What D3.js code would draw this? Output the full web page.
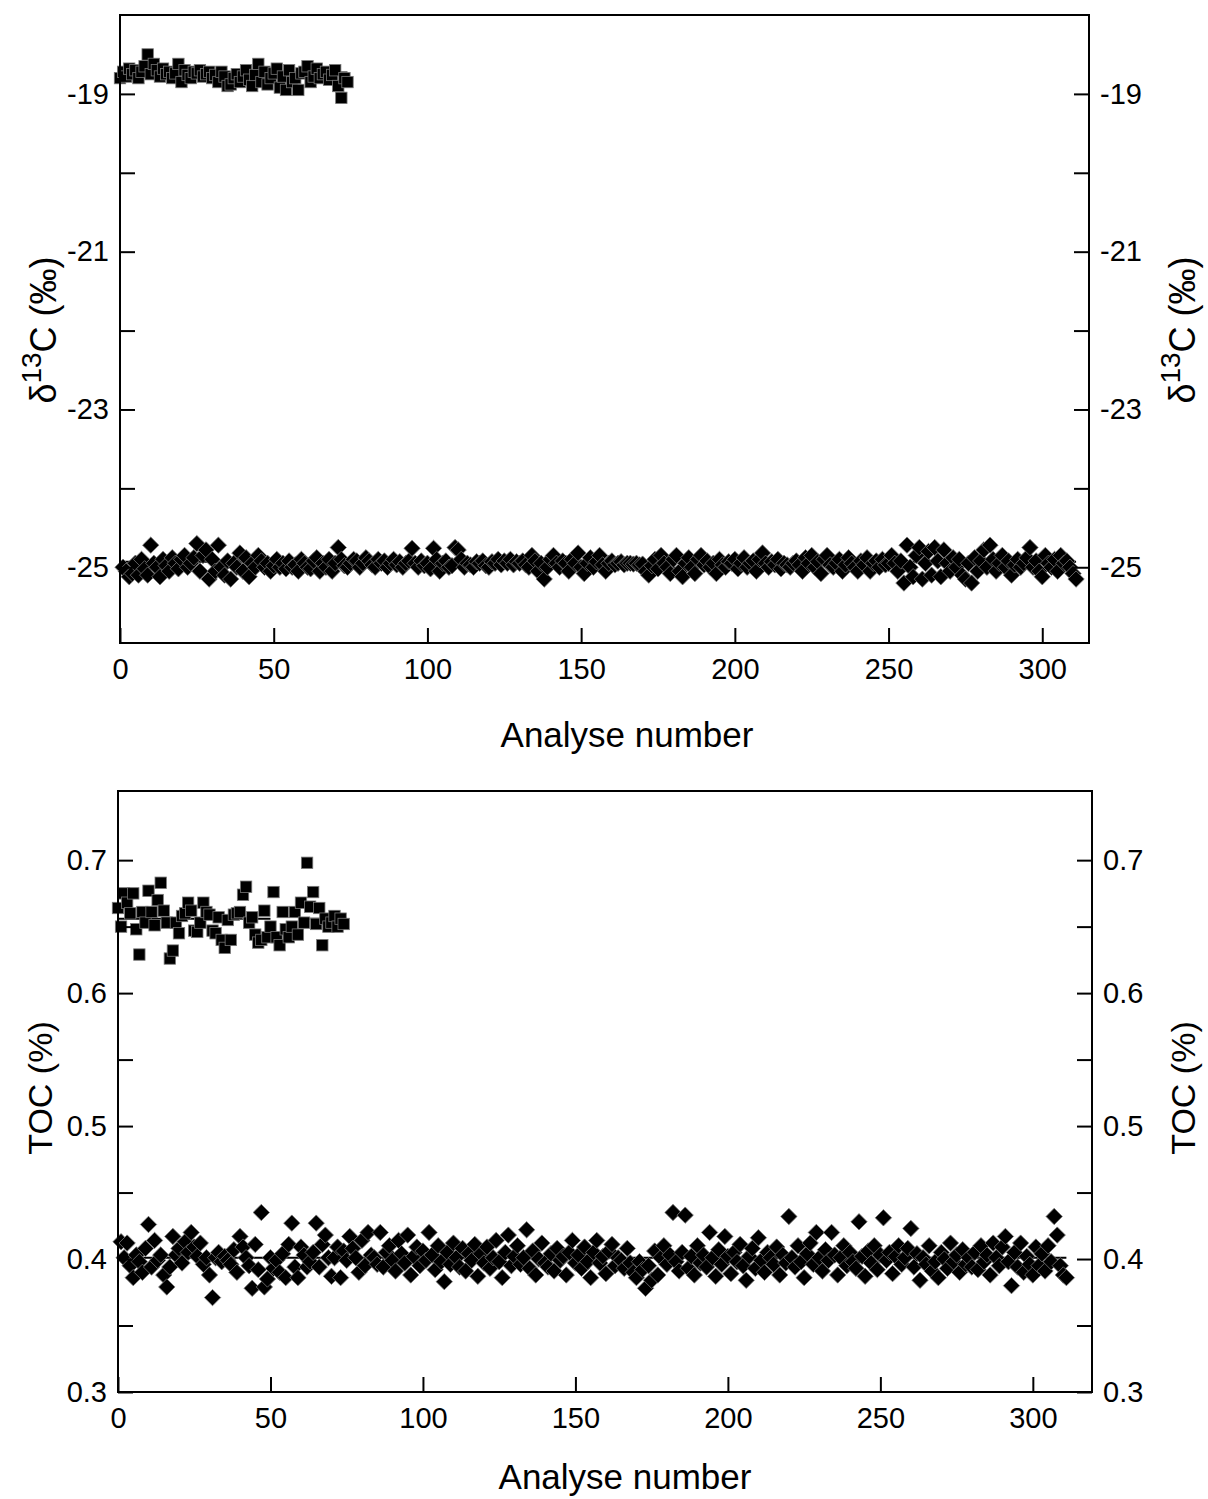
<!DOCTYPE html>
<html><head><meta charset="utf-8">
<script src="https://cdn.jsdelivr.net/npm/d3@7"></script>
<style>
html,body{margin:0;padding:0;background:#fff;}
text{font-family:"Liberation Sans",Arial,sans-serif;fill:#000;}
</style></head>
<body>
<svg id="chart" width="1208" height="1499"></svg>
<script>
// ---------- DATA ----------
// δ13C reference material A (squares), analyses 0..74
const d13cSquares = [-18.80,-18.72,-18.78,-18.68,-18.75,-18.70,-18.80,-18.72,-18.65,-18.50,-18.75,-18.62,-18.70,-18.78,-18.68,-18.75,-18.72,-18.80,-18.74,-18.62,-18.85,-18.70,-18.76,-18.80,-18.72,-18.74,-18.70,-18.78,-18.75,-18.72,-18.80,-18.76,-18.85,-18.72,-18.78,-18.90,-18.88,-18.80,-18.75,-18.85,-18.78,-18.70,-18.82,-18.90,-18.76,-18.62,-18.85,-18.72,-18.88,-18.80,-18.74,-18.68,-18.92,-18.78,-18.95,-18.70,-18.85,-18.80,-18.95,-18.74,-18.72,-18.65,-18.85,-18.78,-18.68,-18.80,-18.75,-18.72,-18.82,-18.76,-18.70,-18.90,-19.05,-18.80,-18.85];
// δ13C reference material B (diamonds), analyses 1..311
const d13cDiamonds = [-25.00,-25.05,-25.12,-25.08,-24.95,-25.10,-24.90,-25.02,-25.10,-24.72,-24.95,-25.00,-25.12,-24.90,-24.98,-25.05,-24.88,-24.95,-25.02,-24.90,-24.85,-25.00,-24.95,-24.88,-24.70,-25.05,-24.85,-24.78,-25.15,-24.90,-25.05,-24.72,-25.00,-25.10,-24.92,-25.15,
-24.95,-25.00,-24.82,-25.05,-24.88,-25.12,-24.95,-25.00,-24.85,-24.92,-25.00,-24.95,-25.05,-24.98,-24.90,-25.00,-24.95,-25.02,-24.92,-25.00,-24.97,-25.05,-24.90,-24.95,-25.00,-25.02,-24.92,-24.88,-25.05,-24.95,-25.00,-24.90,-25.05,-24.95,-24.75,-24.90,-24.98,-25.00,-24.95,-24.90,-24.92,-25.00,-24.95,-24.88,
-24.92,-24.97,-25.00,-24.90,-24.95,-24.92,-25.00,-24.95,-24.90,-24.97,-24.93,-25.00,-24.95,-24.92,-24.76,-24.95,-25.00,-24.92,-24.98,-24.95,-25.02,-24.76,-24.90,-25.05,-24.95,-24.92,-25.00,-24.98,-24.75,-24.78,-24.90,-25.00,-24.95,-24.97,-25.00,-24.93,-24.95,-24.92,-24.98,-25.00,-24.93,-24.95,-24.90,-24.97,-24.92,-24.95,-24.90,-24.97,-24.93,-24.95,-24.92,-24.97,-25.00,-24.85,-24.92,-25.05,-24.95,-25.15,-25.00,-24.90,
-24.85,-24.95,-25.00,-24.92,-24.95,-25.05,-24.90,-24.95,-24.82,-25.00,-25.08,-24.95,-24.88,-25.00,-24.93,-24.85,-24.97,-25.05,-24.95,-24.92,-24.97,-24.95,-24.93,-24.97,-24.95,-24.95,-24.96,-24.95,-24.97,-24.96,-25.05,-25.10,-24.98,-24.90,-25.02,-24.85,-24.95,-25.00,-25.08,-24.90,
-24.85,-25.05,-25.12,-24.95,-24.88,-25.00,-25.08,-24.90,-24.85,-24.97,-24.92,-25.00,-24.95,-25.08,-24.90,-24.97,-25.00,-24.93,-24.95,-24.90,-25.02,-24.95,-24.88,-25.00,-24.95,-24.92,-25.05,-24.90,-24.82,-24.95,-25.00,-24.93,-24.97,-24.90,-25.02,-24.95,-24.97,-25.00,-24.95,-24.92,-24.97,-25.05,-24.88,-24.95,-24.85,-25.00,-24.93,-25.08,-24.90,-24.85,-24.97,-25.00,-24.95,-24.90,-25.05,-24.97,-24.88,-24.95,-25.00,-25.05,-24.92,-24.97,-24.88,-25.05,-24.95,-24.92,-25.00,-24.90,-24.97,-24.95,
-24.85,-24.95,-25.05,-24.92,-25.20,-24.72,-25.00,-25.12,-24.85,-24.75,-25.15,-24.95,-24.80,-25.10,-24.75,-24.92,-25.12,-24.78,-24.95,-25.05,-24.88,-25.00,-24.90,-25.10,-25.15,-24.95,-25.20,-24.88,-25.05,-24.92,-24.78,-25.00,-24.72,-24.90,-25.05,-24.95,-24.85,-25.00,-24.92,-25.10,-24.97,-24.90,-25.00,-24.95,-24.88,-24.75,-25.00,-24.92,-25.05,-25.12,-24.85,-24.95,-25.00,-24.90,-25.05,-24.85,-24.95,-24.92,-25.00,-25.08,-25.15];
// TOC reference material A (squares), analyses 0..74
const tocSquares = [0.664,0.650,0.675,0.668,0.660,0.675,0.648,0.629,0.661,0.653,0.677,0.661,0.651,0.670,0.683,0.662,0.653,0.626,0.632,0.653,0.645,0.658,0.660,0.668,0.662,0.647,0.646,0.653,0.668,0.661,0.659,0.647,0.645,0.657,0.640,0.634,0.655,0.640,0.659,0.660,0.661,0.674,0.680,0.653,0.657,0.644,0.638,0.640,0.662,0.642,0.650,0.676,0.642,0.636,0.661,0.648,0.642,0.650,0.661,0.644,0.668,0.653,0.698,0.665,0.676,0.652,0.664,0.636,0.656,0.650,0.653,0.658,0.650,0.656,0.652];
// TOC reference material B (diamonds), analyses 1..311
const tocDiamonds = [0.413,0.401,0.412,0.395,0.386,0.403,0.398,0.390,0.408,0.426,
0.394,0.414,0.399,0.403,0.388,0.379,0.394,0.417,0.403,0.408,
0.397,0.413,0.405,0.420,0.409,0.402,0.412,0.396,0.401,0.388,
0.371,0.401,0.405,0.398,0.402,0.399,0.396,0.407,0.390,0.417,
0.409,0.401,0.395,0.378,0.411,0.392,0.435,0.379,0.385,0.401,
0.393,0.399,0.390,0.404,0.386,0.411,0.427,0.394,0.386,0.409,
0.403,0.394,0.398,0.405,0.427,0.394,0.411,0.418,0.401,0.387,
0.401,0.409,0.386,0.406,0.399,0.417,0.408,0.401,0.390,0.414,
0.395,0.420,0.403,0.401,0.396,0.420,0.394,0.405,0.410,0.399,
0.391,0.414,0.404,0.397,0.418,0.388,0.402,0.409,0.395,0.406,
0.399,0.420,0.403,0.392,0.410,0.398,0.383,0.405,0.396,0.412,
0.401,0.394,0.408,0.391,0.404,0.399,0.411,0.387,0.404,0.397,
0.409,0.393,0.401,0.414,0.398,0.386,0.405,0.418,0.395,0.402,
0.410,0.396,0.401,0.422,0.393,0.406,0.388,0.400,0.412,0.397,
0.394,0.404,0.391,0.408,0.399,0.402,0.388,0.405,0.414,0.397,
0.403,0.393,0.409,0.398,0.386,0.405,0.414,0.397,0.402,0.389,
0.406,0.411,0.395,0.401,0.399,0.393,0.408,0.397,0.390,0.386,
0.398,0.392,0.378,0.395,0.384,0.406,0.388,0.401,0.410,0.396,
0.403,0.435,0.398,0.391,0.405,0.433,0.393,0.402,0.388,0.410,
0.397,0.403,0.394,0.420,0.401,0.387,0.407,0.396,0.417,0.402,
0.389,0.405,0.398,0.411,0.395,0.384,0.402,0.408,0.393,0.416,
0.399,0.390,0.405,0.401,0.396,0.409,0.388,0.403,0.397,0.432,
0.401,0.394,0.410,0.398,0.386,0.404,0.412,0.396,0.420,0.401,
0.391,0.407,0.399,0.420,0.403,0.388,0.401,0.410,0.395,0.405,
0.398,0.393,0.428,0.402,0.387,0.406,0.397,0.410,0.392,0.403,
0.431,0.399,0.405,0.389,0.402,0.410,0.396,0.401,0.408,0.423,
0.394,0.404,0.384,0.401,0.396,0.410,0.391,0.398,0.386,0.405,
0.400,0.393,0.412,0.398,0.403,0.390,0.407,0.396,0.401,0.394,
0.405,0.392,0.410,0.398,0.403,0.388,0.412,0.401,0.395,0.409,
0.417,0.398,0.380,0.405,0.394,0.412,0.390,0.402,0.396,0.388,
0.409,0.395,0.404,0.391,0.410,0.398,0.432,0.418,0.395,0.388,
0.386];
// mean lines [from analyse, to analyse, value]
const d13cMeans = [[0, 74, -18.73], [0, 311, -24.93]];
const tocMeans = [[0, 50, 0.656], [60, 75, 0.656], [0, 311, 0.401]];
// ticks
const xTicks = [0, 50, 100, 150, 200, 250, 300];
const d13cTicks = [-25, -24, -23, -22, -21, -20, -19];
const d13cLabels = [-25, -23, -21, -19];
const tocTicks = [0.3, 0.35, 0.4, 0.45, 0.5, 0.55, 0.6, 0.65, 0.7];
const tocLabels = [0.3, 0.4, 0.5, 0.6, 0.7];
const xTitle = "Analyse number";

// ---------- DRAW ----------
const svg = d3.select("#chart");
const TICK = 15;

function panel(cfg) {
  const {left, right, top, bottom, xDom, yDom, yTicks, yLabels, fmt, squares, diamonds, means} = cfg;
  const x = d3.scaleLinear().domain(xDom).range([left, right]);
  const y = d3.scaleLinear().domain(yDom).range([bottom, top]);
  const g = svg.append("g");

  // mean lines (behind markers)
  g.selectAll("line.mean").data(means).join("line")
    .attr("x1", d => x(d[0])).attr("x2", d => x(d[1]))
    .attr("y1", d => y(d[2])).attr("y2", d => y(d[2]))
    .attr("stroke", "#000").attr("stroke-width", 2);

  // diamonds
  const ds = 8.2;
  g.selectAll("path.dia").data(diamonds).join("path")
    .attr("d", (d, i) => {
      const cx = x(i + 1), cy = y(d);
      return `M${cx},${cy - ds}L${cx + ds},${cy}L${cx},${cy + ds}L${cx - ds},${cy}Z`;
    })
    .attr("fill", "#000").attr("stroke", "#777").attr("stroke-width", 0.8);

  // squares
  const ss = 5.7;
  g.selectAll("rect.sq").data(squares).join("rect")
    .attr("x", (d, i) => x(i) - ss).attr("y", d => y(d) - ss)
    .attr("width", ss * 2).attr("height", ss * 2)
    .attr("fill", "#000").attr("stroke", "#777").attr("stroke-width", 0.8);

  // axes
  const ax = d3.axisBottom(x).tickValues(xTicks).tickSize(-TICK).tickPadding(15).tickFormat(d => String(d));
  const ay = d3.axisLeft(y).tickValues(yTicks).tickSize(-TICK).tickPadding(11)
    .tickFormat(d => yLabels.some(v => Math.abs(v - d) < 1e-9) ? fmt(d) : "");
  const ayr = d3.axisRight(y).tickValues(yTicks).tickSize(-TICK).tickPadding(11)
    .tickFormat(d => yLabels.some(v => Math.abs(v - d) < 1e-9) ? fmt(d) : "");

  [g.append("g").attr("transform", `translate(0,${bottom})`).call(ax),
   g.append("g").attr("transform", `translate(${left},0)`).call(ay),
   g.append("g").attr("transform", `translate(${right},0)`).call(ayr)].forEach(a => {
    a.select(".domain").remove();
    a.selectAll(".tick line").attr("stroke", "#000").attr("stroke-width", 2);
    a.selectAll(".tick text").attr("font-size", 29).attr("font-family", "Liberation Sans, Arial, sans-serif").attr("fill", "#000");
  });

  // frame
  g.append("rect").attr("x", left).attr("y", top).attr("width", right - left).attr("height", bottom - top)
    .attr("fill", "none").attr("stroke", "#000").attr("stroke-width", 2);

  return {x, y, g};
}

// top panel
const p1 = panel({left: 120, right: 1089, top: 15, bottom: 643,
  xDom: [0, 315.2], yDom: [-25.96, -18], yTicks: d13cTicks, yLabels: d13cLabels,
  fmt: d => String(d), squares: d13cSquares, diamonds: d13cDiamonds, means: d13cMeans});
// bottom panel
const p2 = panel({left: 118, right: 1092, top: 791, bottom: 1392,
  xDom: [0, 319.4], yDom: [0.3, 0.752], yTicks: tocTicks, yLabels: tocLabels,
  fmt: d => d.toFixed(1), squares: tocSquares, diamonds: tocDiamonds, means: tocMeans});

// titles
function xLabel(cx, cy) {
  svg.append("text").attr("x", cx).attr("y", cy).attr("text-anchor", "middle")
    .attr("dominant-baseline", "middle").attr("font-size", 35).text(xTitle);
}
xLabel(627, 738);
xLabel(625, 1480);

function d13cTitle(cx, cy) {
  const t = svg.append("text").attr("transform", `translate(${cx},${cy}) rotate(-90)`)
    .attr("text-anchor", "middle").attr("dominant-baseline", "middle").attr("font-size", 36);
  t.append("tspan").text("δ");
  t.append("tspan").attr("font-size", 28).attr("dy", -12).text("13");
  t.append("tspan").attr("dy", 12).text("C (‰)");
}
d13cTitle(46, 330);
d13cTitle(1185, 330);

function tocTitle(cx, cy) {
  svg.append("text").attr("transform", `translate(${cx},${cy}) rotate(-90)`)
    .attr("text-anchor", "middle").attr("dominant-baseline", "middle").attr("font-size", 34).text("TOC (%)");
}
tocTitle(43, 1088);
tocTitle(1186, 1088);
</script>
</body></html>
